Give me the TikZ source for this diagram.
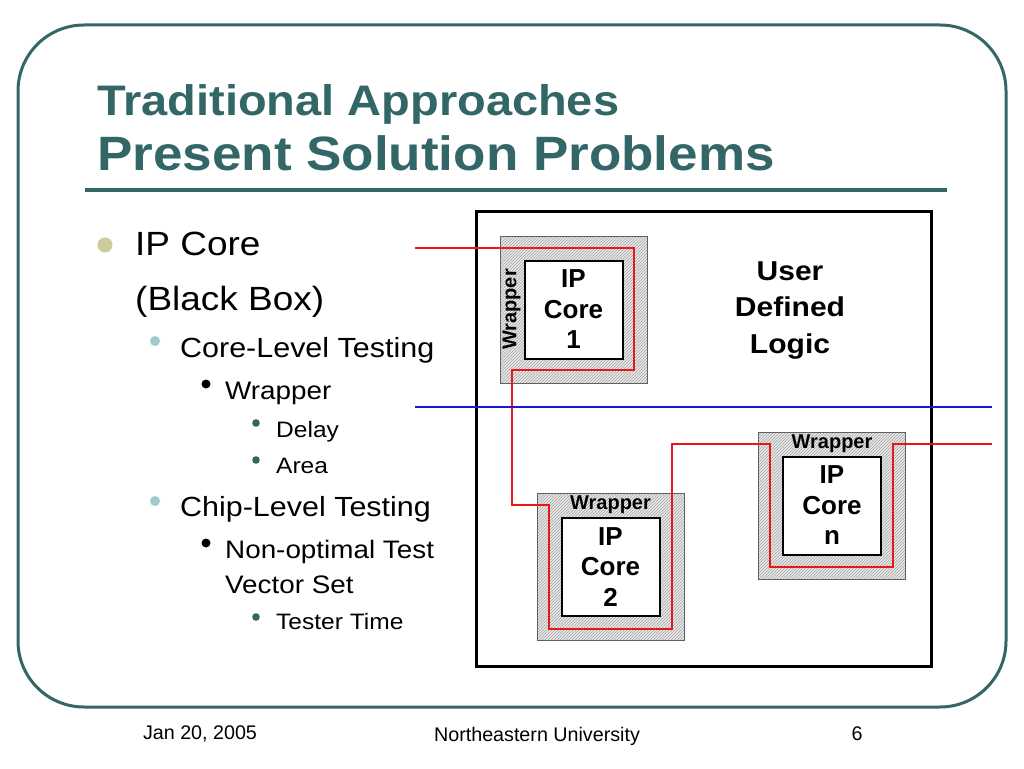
\documentclass[tikz,border=0pt]{standalone}
\usepackage{fontspec}
\setmainfont{Liberation Sans}
\newfontfamily\titlefont{Liberation Sans}[FakeStretch=1.1]
\newfontfamily\bodyfont{Liberation Sans}[FakeStretch=1.1]
\usepackage{tikz}
\usetikzlibrary{patterns,calc}
\definecolor{slideteal}{RGB}{51,102,102}
\definecolor{bulletkhaki}{RGB}{204,204,153}
\definecolor{bulletcyan}{RGB}{153,204,204}
\definecolor{hatchgray}{RGB}{232,232,232}
\definecolor{wirered}{RGB}{232,24,24}
\definecolor{wireblue}{RGB}{24,24,214}
\newcommand{\setfs}[2]{\fontsize{#1}{#2}\selectfont}

\begin{document}
\begin{tikzpicture}[line cap=butt,line join=miter,x=1pt,y=-1pt,
    txt/.style={anchor=base west,inner sep=0pt},
    lvlone/.style={txt,font=\bodyfont\setfs{33.6}{40}},
    lvltwo/.style={txt,font=\bodyfont\setfs{27.7}{33}},
    lvlthree/.style={txt,font=\bodyfont\setfs{25.3}{30}},
    lvlfour/.style={txt,font=\bodyfont\setfs{22.3}{27}},
    wrapper/.style={draw=gray!75!black,line width=1pt,minimum size=147pt,inner sep=0pt,
        preaction={fill=hatchgray},pattern=north east lines,pattern color=gray!70},
    core/.style={draw=black,fill=white,line width=2pt,minimum size=98pt,inner sep=0pt,
        align=center,font=\bfseries\setfs{26}{30.5}},
    wraplabel/.style={inner sep=0pt,font=\bfseries\setfs{20}{24}},
    wire/.style={line width=2pt,wirered},
    footer/.style={inner sep=0pt,anchor=base,font=\setfs{19.7}{24}}]
    \fill[white] (0,0) rectangle (1024,768);
    \useasboundingbox (0,0) rectangle (1024,768);
    \draw [slideteal,line width=3pt,rounded corners=66pt] (18,25) rectangle (1006,707);
    \node[txt,slideteal,font=\titlefont\bfseries\setfs{42.7}{48}] (titleA) at (97,115) {Traditional Approaches};
    \node[txt,slideteal,font=\titlefont\bfseries\setfs{48.2}{54}] (titleB) at (97,170) {Present Solution Problems};
    \draw [slideteal,line width=4pt] (85,190) -- (947,190);

    \fill[bulletkhaki] (105,245) circle (7.5pt);
    \node[lvlone] (ipcore) at (135,255) {IP Core};
    \node[lvlone] (blackbox) at (135,310) {(Black Box)};
    \fill[bulletcyan] (155,341) circle (5pt);
    \node[lvltwo] (coretest) at (180,357) {Core-Level Testing};
    \fill[black] (206,384) circle (4.5pt);
    \node[lvlthree] (wrapitem) at (225,399) {Wrapper};
    \fill[slideteal] (256,423) circle (3.8pt);
    \node[lvlfour] (delay) at (276,437) {Delay};
    \fill[slideteal] (256,460) circle (3.8pt);
    \node[lvlfour] (area) at (276,473) {Area};
    \fill[bulletcyan] (155,501) circle (5pt);
    \node[lvltwo] (chiptest) at (180,516) {Chip-Level Testing};
    \fill[black] (206,543) circle (4.5pt);
    \node[lvlthree] (nonopt) at (225,558) {Non-optimal Test};
    \node[lvlthree] (vecset) at (225,593) {Vector Set};
    \fill[slideteal] (256,617) circle (3.8pt);
    \node[lvlfour] (testtime) at (276,629) {Tester Time};

    \node[draw=black,fill=white,line width=3pt,minimum width=455pt,minimum height=455pt,inner sep=0pt] (chip) at (703.5,438.5) {};
    \node[align=center,inner sep=0pt,font=\bodyfont\bfseries\setfs{27.3}{36.5}] (udl) at (790,310) {User\\Defined\\Logic};

    \node[wrapper] (wrapA) at (573.5,309.5) {};
    \node[core] (coreA) at (wrapA) {IP\\Core\\1};
    \node[wraplabel,rotate=90] (labA) at ($(wrapA.west)!.5!(coreA.west)$) {Wrapper};
    \node[wrapper] (wrapB) at (610.5,567) {};
    \node[core] (coreB) at (wrapB) {IP\\Core\\2};
    \node[wraplabel] (labB) at ($(wrapB.north)!.5!(coreB.north)$) {Wrapper};
    \node[wrapper] (wrapN) at (832,505.5) {};
    \node[core] (coreN) at (wrapN) {IP\\Core\\n};
    \node[wraplabel] (labN) at ($(wrapN.north)!.5!(coreN.north)$) {Wrapper};

    \coordinate (redin) at (415,248);
    \coordinate (redout) at (992,444);
    \coordinate (bluein) at (415,407);
    \coordinate (blueout) at (992,407);
    \draw [wire] (redin) -- (634,248) -- (634,370) -- (512,370) -- (512,505) -- (549,505) -- (549,629)
        -- (672,629) -- (672,444) -- (770,444) -- (770,567) -- (893,567) -- (893,444) -- (redout);
    \draw [line width=1.5pt,wireblue] (bluein) -- (blueout);

    \node[footer] (date) at (200,739) {Jan 20, 2005};
    \node[footer] (univ) at (537,741) {Northeastern University};
    \node[footer] (page) at (857,740) {6};
\end{tikzpicture}
\end{document}
